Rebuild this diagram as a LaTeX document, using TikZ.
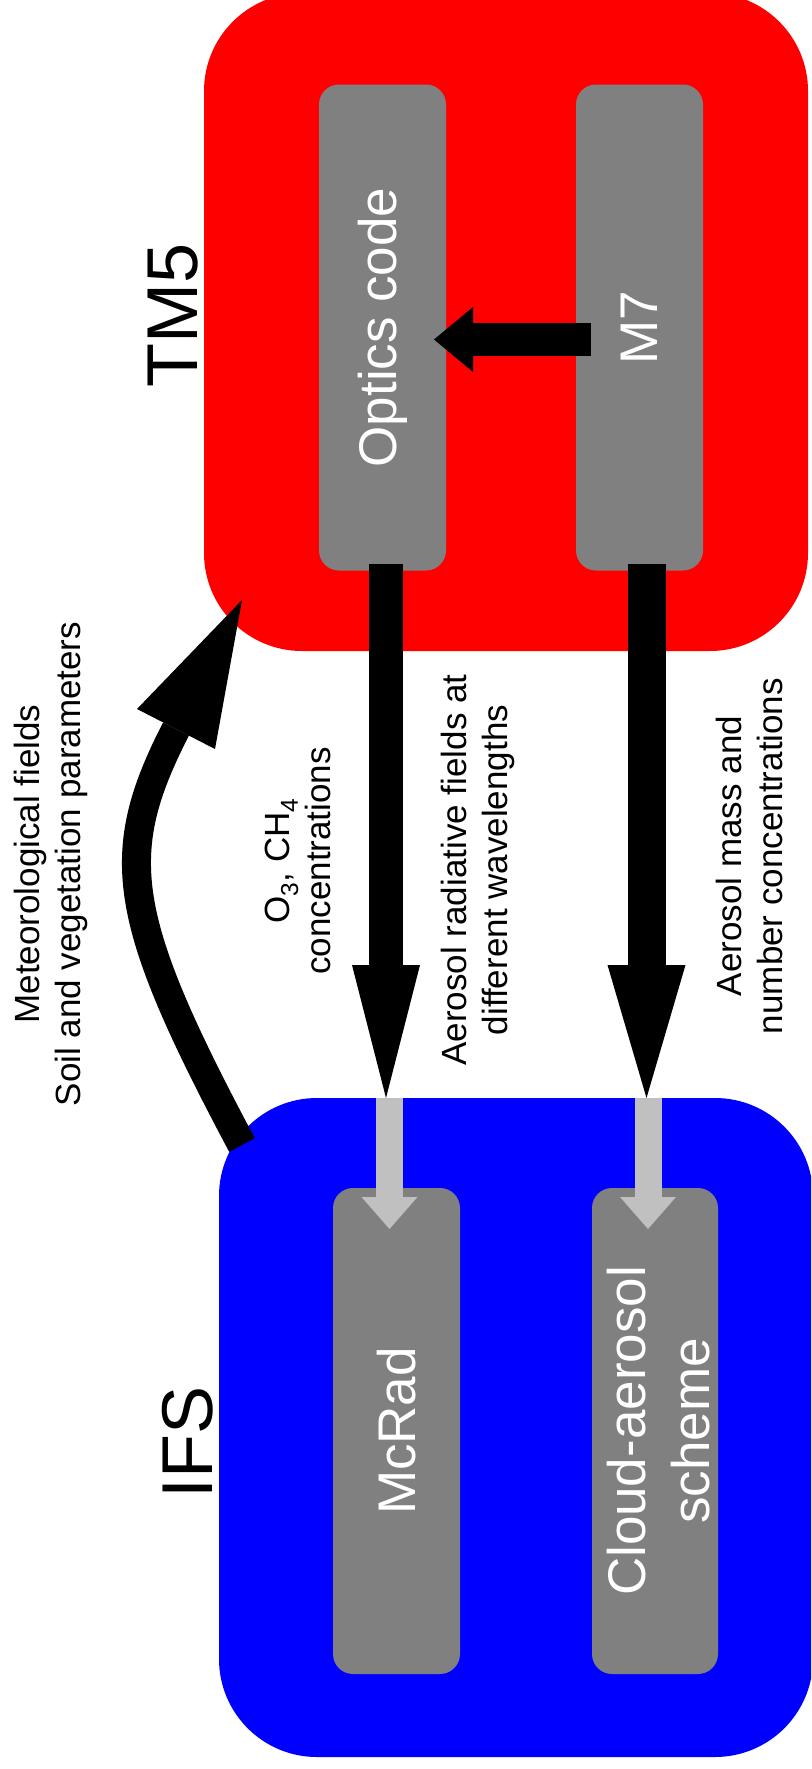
\documentclass[tikz,border=0pt]{standalone}
\usepackage{fontspec}
\setmainfont{Liberation Sans}
\usetikzlibrary{arrows.meta}
\definecolor{tmred}{RGB}{255,0,0}
\definecolor{ifsblue}{RGB}{0,0,255}
\definecolor{modgray}{RGB}{128,128,128}
\definecolor{linkgray}{RGB}{192,192,192}
\begin{document}
\begin{tikzpicture}[x=1pt,y=-1pt,
  modelbox/.style={rectangle, rounded corners=98pt, inner sep=0pt, draw=none},
  codebox/.style={rectangle, fill=modgray, rounded corners=20pt, inner sep=0pt,
    draw=none, minimum height=486pt},
  modeltitle/.style={rotate=90, inner sep=0pt, font=\fontsize{72}{80}\selectfont},
  codetext/.style={rotate=90, inner sep=0pt, text=white, align=center,
    font=\fontsize{53}{64}\selectfont},
  flowlabel/.style={rotate=90, inner sep=0pt, align=center,
    font=\fontsize{35}{41}\selectfont},
  bigflow/.style={draw=black, line cap=butt},
  smallflow/.style={draw=linkgray, line width=27pt,
    -{Triangle[length=32pt, width=56pt, line width=0pt]}}]
\useasboundingbox (0,0) rectangle (811,1769);
\fill[white] (0,0) rectangle (811,1769);
\clip (0,0) rectangle (811,1769);

% model containers
\node[modelbox, fill=tmred, minimum width=604pt, minimum height=658pt] (tm5) at (506,322) {};
\node[modelbox, fill=ifsblue, minimum width=594pt, minimum height=659pt] (ifs) at (516,1427.5) {};

% code components
\node[codebox, minimum width=127pt] (optics) at (382.5,327.5) {};
\node[codebox, minimum width=127pt] (m7) at (639.5,327.5) {};
\node[codebox, minimum width=127pt] (mcrad) at (396.5,1431) {};
\node[codebox, minimum width=126pt] (cloud) at (655,1431) {};

% titles and component names
\node[modeltitle] (tm5title) at (173,315) {TM5};
\node[modeltitle] (ifstitle) at (187.5,1442.5) {IFS};
\node[codetext] (opticstext) at (optics.center) {Optics code};
\node[codetext] (m7text) at (m7.center) {M7};
\node[codetext] (mcradtext) at (mcrad.center) {McRad};
\node[codetext] (cloudtext) at ([xshift=4pt]cloud.center) {Cloud-aerosol\\scheme};

% end points of the exchange arrows
\coordinate (m7out) at (591,339.5);
\coordinate (opticsin) at (434,339.5);
\coordinate (opticsout) at (386,564);
\coordinate (m7down) at (646.5,564);
\coordinate (ifsrad) at (386,1098);
\coordinate (ifsaer) at (646.5,1098);
\coordinate (radstart) at (389.5,1098);
\coordinate (radend) at (389.5,1229);
\coordinate (aerstart) at (648,1098);
\coordinate (aerend) at (648,1229);
\coordinate (metstart) at (242,1145);
\coordinate (metbase) at (176,729);
\coordinate (mettip) at (242,600);
\coordinate (metbarbA) at (137,709);
\coordinate (metbarbB) at (215,749);

% TM5 internal coupling
\draw[bigflow, line width=33pt, -{Triangle[length=39pt, width=65pt, line width=0pt]}]
  (m7out) -- (opticsin);

% TM5 -> IFS
\draw[bigflow, line width=34pt, -{Triangle[length=133pt, width=68pt, line width=0pt]}]
  (opticsout) -- (ifsrad);
\draw[bigflow, line width=38pt, -{Triangle[length=133pt, width=78pt, line width=0pt]}]
  (m7down) -- (ifsaer);

% hand-over inside IFS
\draw[smallflow] (radstart) -- (radend);
\draw[smallflow] (aerstart) -- (aerend);

% IFS -> TM5
\draw[bigflow, line width=29pt] (metstart) .. controls (120,916) and (112,854) .. (metbase);
\fill[black] (mettip) -- (metbarbA) -- (metbarbB) -- cycle;

% flow labels
\node[flowlabel] (metlabel) at (51,864) {Meteorological fields\\Soil and vegetation parameters};
\node[flowlabel] (gaslabel) at (298,861) {O\textsubscript{3}, CH\textsubscript{4}\\concentrations};
\node[flowlabel] (radlabel) at (478,870) {Aerosol radiative fields at\\different wavelengths};
\node[flowlabel] (masslabel) at (749,856) {Aerosol mass and\\number concentrations};
\end{tikzpicture}
\end{document}
